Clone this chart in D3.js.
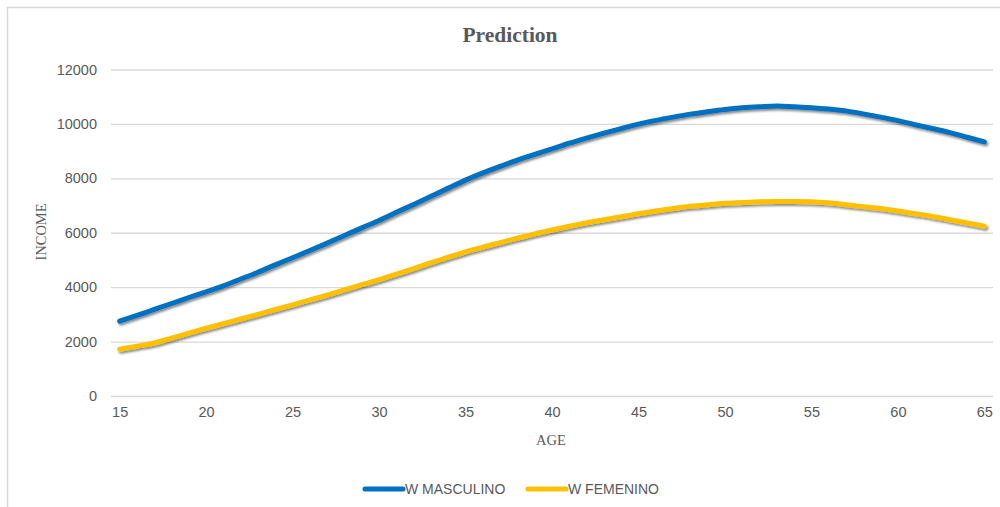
<!DOCTYPE html>
<html>
<head>
<meta charset="utf-8">
<script src="https://cdn.jsdelivr.net/npm/d3@7"></script>
<style>
  html, body { margin: 0; padding: 0; background: #fff; }
  svg { display: block; }
</style>
</head>
<body>
<svg id="chart" width="1000" height="507"></svg>
<script>
const ages = d3.range(15, 66);
const xTickLabels = [15, 20, 25, 30, 35, 40, 45, 50, 55, 60, 65];
const yTickLabels = [0, 2000, 4000, 6000, 8000, 10000, 12000];
const seriesNames = ["W MASCULINO", "W FEMENINO"];
const masculino = [
  2750, 2960, 3180, 3400, 3620, 3830, 4050, 4300, 4550, 4820,
  5080, 5350, 5620, 5900, 6180, 6450, 6750, 7040, 7340, 7640,
  7935, 8200, 8440, 8670, 8880, 9080, 9290, 9480, 9660, 9830,
  9990, 10130, 10250, 10360, 10450, 10530, 10590, 10630, 10660, 10630,
  10590, 10550, 10480, 10370, 10250, 10120, 9970, 9830, 9680, 9510,
  9340
];
const femenino = [
  1720, 1830, 1950, 2130, 2310, 2490, 2660, 2830, 3000, 3180,
  3350, 3530, 3710, 3900, 4090, 4280, 4480, 4680, 4900, 5100,
  5300, 5470, 5640, 5800, 5960, 6100, 6240, 6370, 6480, 6590,
  6700, 6800, 6890, 6970, 7030, 7080, 7110, 7140, 7150, 7150,
  7140, 7100, 7030, 6960, 6890, 6800, 6700, 6600, 6480, 6360,
  6240
];
const colors = ["#0070C0", "#FFC000"];

const svg = d3.select("#chart");

// chart frame
svg.append("path")
  .attr("d", "M7.5,507 L7.5,7.5 L1000,7.5")
  .attr("fill", "none").attr("stroke", "#d9d9d9").attr("stroke-width", 1.5);

const defs = svg.append("defs");
const f = defs.append("filter").attr("id", "shadow")
  .attr("x", "-5%").attr("y", "-20%").attr("width", "110%").attr("height", "140%");
f.append("feDropShadow").attr("dx", 1.5).attr("dy", 2).attr("stdDeviation", 1.3)
  .attr("flood-color", "#000").attr("flood-opacity", 0.45);

const plotLeft = 111, plotRight = 993, plotTop = 69.5, plotBottom = 396;

const x = d3.scalePoint().domain(ages).range([plotLeft, plotRight]).padding(0.5);
const y = d3.scaleLinear().domain([0, 12000]).range([plotBottom, plotTop]);

// gridlines + y labels
const yAxis = d3.axisLeft(y).tickValues(yTickLabels).tickFormat(d3.format("d"))
  .tickSize(-(plotRight - plotLeft)).tickPadding(14);
const gy = svg.append("g").attr("transform", `translate(${plotLeft},0)`).call(yAxis);
gy.select(".domain").remove();
gy.selectAll(".tick line").attr("stroke", "#d9d9d9").attr("stroke-width", 1.3);
gy.selectAll(".tick text").attr("fill", "#595959")
  .style("font-family", "'Liberation Sans', Arial, sans-serif").style("font-size", "14.5px");

// x labels
const xAxis = d3.axisBottom(x).tickValues(xTickLabels).tickSize(0).tickPadding(11);
const gx = svg.append("g").attr("transform", `translate(0,${plotBottom})`).call(xAxis);
gx.select(".domain").remove();
gx.selectAll(".tick text").attr("fill", "#595959")
  .style("font-family", "'Liberation Sans', Arial, sans-serif").style("font-size", "14.5px");

// lines
const line = d3.line().x((d, i) => x(ages[i])).y(d => y(d)).curve(d3.curveMonotoneX);
[masculino, femenino].forEach((s, i) => {
  svg.append("path").datum(s)
    .attr("d", line)
    .attr("fill", "none")
    .attr("stroke", colors[i])
    .attr("stroke-width", 5)
    .attr("stroke-linecap", "round")
    .attr("stroke-linejoin", "round")
    .attr("filter", "url(#shadow)");
});

// title
svg.append("text").attr("x", 510).attr("y", 42).attr("text-anchor", "middle")
  .attr("fill", "#595959").style("font-family", "'Liberation Serif', 'Times New Roman', serif")
  .style("font-size", "21.5px").style("font-weight", "bold").text("Prediction");

// axis titles
svg.append("text").attr("x", 551).attr("y", 445).attr("text-anchor", "middle")
  .attr("fill", "#595959").style("font-family", "'Liberation Serif', 'Times New Roman', serif")
  .style("font-size", "14.5px").text("AGE");
svg.append("text").attr("transform", "translate(46,232) rotate(-90)").attr("text-anchor", "middle")
  .attr("fill", "#595959").style("font-family", "'Liberation Serif', 'Times New Roman', serif")
  .style("font-size", "14.5px").text("INCOME");

// legend
const legendX = [365, 528];
seriesNames.forEach((name, i) => {
  const g = svg.append("g").attr("transform", `translate(${legendX[i]},489)`);
  g.append("line").attr("x1", 0).attr("x2", 38).attr("y1", 0).attr("y2", 0)
    .attr("stroke", colors[i]).attr("stroke-width", 5).attr("stroke-linecap", "round");
  g.append("text").attr("x", 40).attr("y", 5).attr("fill", "#595959")
    .style("font-family", "'Liberation Sans', Arial, sans-serif").style("font-size", "14px")
    .text(name);
});
</script>
</body>
</html>
